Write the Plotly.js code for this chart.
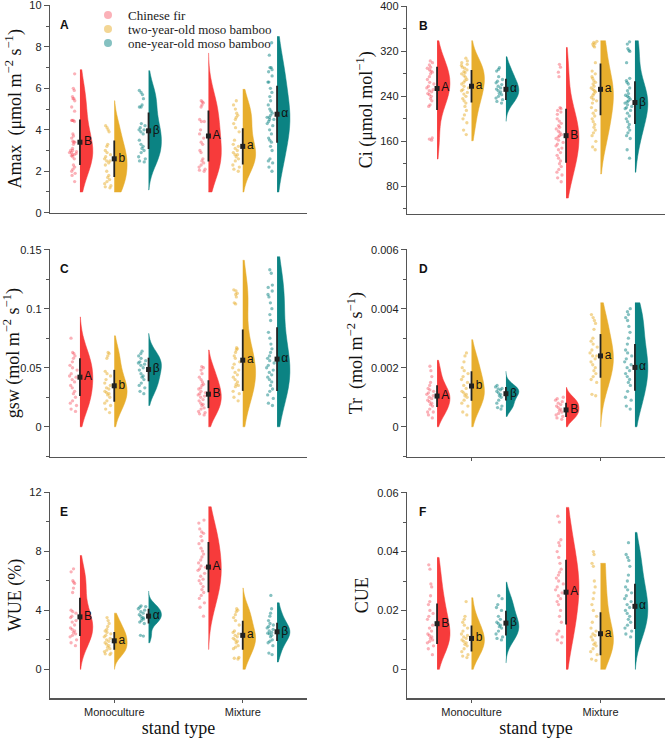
<!DOCTYPE html>
<html><head><meta charset="utf-8">
<script src="https://cdn.plot.ly/plotly-3.0.1.min.js"></script>
<style>html,body{margin:0;padding:0;background:#fff}#chart{width:666px;height:741px}</style>
</head><body><div id="chart"></div>
<script>
// ---------- categories ----------
const standTypes = ['Monoculture', 'Mixture'];
const speciesNames = ['Chinese fir', 'two-year-old moso bamboo', 'one-year-old moso bamboo'];

// ---------- Amax ----------
const amaxMonoFir = [6.7,6.0,5.9,5.6,5.5,5.5,5.4,5.1,4.9,4.45,4.45,4.45,4.4,3.8,3.7,3.6,3.45,3.4,3.4,3.3,3.1,3.0,3.0,2.95,2.9,2.9,2.85,2.8,2.8,2.75,2.7,2.6,2.3,2.2,2.1,2.0,1.9,1.8,1.5];
const amaxMonoTwo = [4.2,4.1,4.0,3.9,3.3,3.2,3.0,2.9,2.8,2.7,2.6,2.5,2.5,2.4,2.3,2.0,1.8,1.7,1.6,1.5,1.4,1.3,1.25,1.2];
const amaxMonoOne = [5.9,5.8,5.7,5.5,5.2,5.1,5.1,4.3,4.2,4.1,4.0,4.0,3.9,3.8,3.5,3.3,3.2,3.1,3.0,2.9,2.7,2.6,2.5,2.45];
const amaxMixFir = [5.4,5.35,5.3,5.2,5.1,4.5,4.4,4.4,4.0,3.8,3.6,3.4,3.3,3.0,2.9,2.6,2.5,2.4,2.3,2.2,2.1,2.05,2.0];
const amaxMixTwo = [5.4,5.2,5.0,4.8,4.7,4.6,4.5,4.3,4.1,3.9,3.5,3.3,3.2,3.1,3.0,2.9,2.8,2.8,2.7,2.6,2.5,2.3,2.2,2.1,2.0];
const amaxMixOne = [8.2,7.6,7.0,7.0,6.9,6.8,6.6,6.3,6.3,6.0,5.8,5.6,5.4,5.2,5.0,4.9,4.8,4.7,4.6,4.6,4.5,4.5,4.4,4.3,4.2,4.0,3.8,3.6,3.5,3.4,3.2,3.0,2.6,2.5,2.4,2.2,2.0];
const amaxMeans = [3.4,2.6,3.95,3.7,3.2,4.75];
const amaxSD = [1.1,0.88,0.88,1.23,0.87,1.38];
const amaxLetters = ['B','b','β','A','a','α'];
const amaxSpan = [[1.0,6.9],[1.0,5.4],[1.1,6.85],[1.0,7.7],[1.0,5.95],[1.0,8.5]];

// ---------- Ci ----------
const ciMonoFir = [303,300,296,292,290,287,285,283,280,275,270,265,262,258,255,252,250,248,245,243,240,236,232,225,222,166,164,162];
const ciMonoTwo = [308,303,300,297,295,292,290,287,284,282,280,277,274,270,268,265,262,258,255,252,250,247,244,240,236,232,228,222,215,207,200,193,180,172];
const ciMonoOne = [291,288,285,275,270,267,264,261,258,255,253,250,248,245,243,240,237,234,231,228];
const ciMixFir = [297,292,283,275,220,218,215,212,208,200,196,192,188,185,182,178,175,172,170,168,165,162,158,155,152,148,145,140,135,130,125,120,115,110,105,100,95,88];
const ciMixTwo = [338,336,334,333,330,328,300,285,280,275,272,268,265,262,258,255,252,250,248,245,242,238,235,232,228,220,215,210,205,200,195,190,185,180,175,170,160,150,145];
const ciMixOne = [337,333,325,322,320,300,272,268,265,262,255,250,245,242,240,238,235,232,230,228,225,222,220,218,215,210,205,200,195,190,185,180,175,170,165,145,130];
const ciMeans = [254,258,252.5,170,252.5,229];
const ciSD = [38.5,29,18.8,48,46,38];
const ciLetters = ['A','a','α','B','a','β'];
const ciSpan = [[128.6,339],[161,339],[195.6,310.5],[59,327],[102,339],[105,339]];

// ---------- gsw ----------
const gswMonoFir = [0.075,0.063,0.062,0.06,0.058,0.055,0.052,0.05,0.048,0.045,0.043,0.042,0.04,0.038,0.035,0.033,0.03,0.028,0.025,0.022,0.02,0.018,0.015,0.013];
const gswMonoTwo = [0.063,0.062,0.06,0.058,0.047,0.045,0.043,0.04,0.037,0.035,0.033,0.032,0.03,0.029,0.028,0.027,0.025,0.022,0.02,0.018,0.015,0.012];
const gswMonoOne = [0.064,0.062,0.06,0.058,0.056,0.055,0.054,0.053,0.052,0.05,0.048,0.045,0.043,0.042,0.04,0.037,0.035,0.033,0.03,0.028];
const gswMixFir = [0.051,0.05,0.048,0.045,0.042,0.04,0.038,0.036,0.035,0.033,0.032,0.03,0.029,0.028,0.027,0.026,0.025,0.023,0.022,0.02,0.019,0.018,0.016,0.015,0.013,0.012,0.011,0.01];
const gswMixTwo = [0.116,0.115,0.113,0.112,0.11,0.105,0.104,0.067,0.066,0.065,0.063,0.06,0.058,0.055,0.053,0.05,0.048,0.046,0.044,0.042,0.04,0.038,0.036,0.035,0.034,0.03,0.028,0.025,0.022];
const gswMixOne = [0.133,0.13,0.12,0.118,0.115,0.112,0.11,0.105,0.1,0.095,0.09,0.08,0.075,0.07,0.066,0.063,0.06,0.058,0.056,0.054,0.052,0.05,0.048,0.046,0.044,0.042,0.04,0.038,0.035,0.032,0.03,0.027,0.024,0.02,0.018];
const gswMeans = [0.042,0.0347,0.0485,0.0276,0.0564,0.0573];
const gswSD = [0.016,0.0135,0.01,0.0118,0.026,0.027];
const gswLetters = ['A','b','β','B','a','α'];
const gswSpan = [[0,0.093],[0,0.077],[0.018,0.079],[0,0.065],[0,0.141],[0,0.144]];

// ---------- Tr ----------
const trMonoFir = [0.00205,0.0019,0.0017,0.0015,0.0014,0.0013,0.00125,0.0012,0.00115,0.0011,0.00105,0.001,0.00095,0.0009,0.00085,0.0008,0.00075,0.0007,0.0006,0.0005,0.0005,0.0004,0.0003];
const trMonoTwo = [0.0025,0.0024,0.0022,0.002,0.0019,0.0018,0.0017,0.0016,0.0015,0.0014,0.0013,0.0012,0.00115,0.0011,0.00105,0.001,0.0009,0.0008,0.0007,0.0005,0.0004];
const trMonoOne = [0.0014,0.00135,0.0013,0.00128,0.00125,0.0012,0.00115,0.0011,0.00105,0.001,0.0009,0.0008,0.0007,0.00065,0.0006];
const trMixFir = [0.001,0.00095,0.0009,0.00085,0.0008,0.00075,0.0007,0.00065,0.0006,0.00055,0.0005,0.00045,0.0004,0.00035,0.0003,0.00025];
const trMixTwo = [0.0038,0.0037,0.0036,0.0035,0.0033,0.003,0.0029,0.0028,0.0027,0.0026,0.0025,0.0024,0.0024,0.0023,0.0022,0.0021,0.002,0.0019,0.0018,0.0017,0.0016,0.0015,0.0011,0.00105];
const trMixOne = [0.004,0.0039,0.0038,0.0037,0.0036,0.0034,0.0032,0.003,0.0028,0.0026,0.0025,0.0024,0.0023,0.0022,0.0021,0.002,0.0019,0.0018,0.0017,0.0016,0.0015,0.0014,0.0012,0.001,0.0009,0.0007,0.0006];
const trMeans = [0.00104,0.00138,0.00112,0.00057,0.0024,0.00201];
const trSD = [0.00037,0.0005,0.00023,0.00024,0.00074,0.00079];
const trLetters = ['A','b','β','B','a','α'];
const trSpan = [[0,0.00225],[0,0.00295],[0.00035,0.00188],[0,0.00133],[0,0.0042],[0,0.0042]];

// ---------- WUE ----------
const wueMonoFir = [6.8,6.6,6.0,5.9,5.8,5.5,5.2,4.0,3.9,3.8,3.6,3.5,3.3,3.2,3.0,2.8,2.7,2.6,2.5,2.4,2.3,2.2,2.0,1.8,1.6];
const wueMonoTwo = [3.5,3.3,3.1,2.9,2.7,2.6,2.5,2.4,2.3,2.2,2.1,2.0,1.9,1.8,1.7,1.6,1.5,1.4,1.3,1.2,1.1,1.05,1.0];
const wueMonoOne = [4.3,4.25,4.2,4.1,4.0,3.9,3.8,3.7,3.6,3.5,3.45,3.4,3.3,3.2,3.1,2.3,2.25];
const wueMixFir = [10.1,9.9,9.5,9.3,9.2,9.0,8.7,8.5,8.2,8.0,7.8,7.6,7.4,7.2,7.0,6.9,6.8,6.7,6.5,6.3,6.1,6.0,5.8,5.6,5.4,5.2,5.0,4.8,4.5,4.2,3.6];
const wueMixTwo = [4.1,4.0,3.9,3.7,3.5,3.3,3.0,2.6,2.5,2.4,2.3,2.2,2.1,2.0,1.9,1.8,1.6,1.5,1.4,0.8,0.75,0.7];
const wueMixOne = [5.0,4.1,3.8,3.6,3.3,3.1,3.0,2.9,2.8,2.7,2.6,2.5,2.45,2.4,2.3,2.2,2.0,1.9,1.8,1.6,1.1,1.0];
const wueMeans = [3.55,1.93,3.6,6.92,2.3,2.54];
const wueSD = [1.3,0.6,0.5,1.7,0.98,0.62];
const wueLetters = ['B','a','α','A','a','β'];
const wueSpan = [[0,7.7],[0,3.8],[1.8,5.3],[1.35,11.0],[0,5.5],[0.5,4.5]];

// ---------- CUE ----------
const cueMonoFir = [0.0355,0.034,0.029,0.028,0.025,0.023,0.022,0.02,0.019,0.018,0.017,0.015,0.014,0.013,0.012,0.0115,0.011,0.0105,0.01,0.0095,0.009,0.008,0.007,0.005];
const cueMonoTwo = [0.023,0.018,0.017,0.016,0.015,0.014,0.013,0.012,0.0115,0.011,0.0105,0.01,0.0095,0.009,0.0085,0.008,0.007,0.006,0.005,0.0045,0.004];
const cueMonoOne = [0.025,0.024,0.022,0.021,0.02,0.018,0.017,0.016,0.0155,0.015,0.0145,0.014,0.013,0.012,0.011,0.0105,0.01];
const cueMixFir = [0.052,0.05,0.044,0.043,0.042,0.04,0.038,0.036,0.034,0.033,0.032,0.031,0.03,0.029,0.028,0.027,0.026,0.025,0.024,0.023,0.022,0.02,0.018,0.016,0.013,0.012,0.011,0.01,0.009];
const cueMixTwo = [0.04,0.039,0.036,0.035,0.03,0.028,0.026,0.024,0.022,0.02,0.018,0.016,0.014,0.013,0.012,0.0115,0.011,0.01,0.009,0.0085,0.008,0.007,0.006,0.005,0.0035,0.003];
const cueMixOne = [0.043,0.039,0.038,0.037,0.035,0.032,0.03,0.028,0.027,0.026,0.025,0.024,0.023,0.022,0.021,0.02,0.019,0.018,0.017,0.016,0.015,0.014,0.013,0.012,0.011];
const cueMeans = [0.0155,0.0105,0.0157,0.0262,0.0121,0.0214];
const cueSD = [0.0069,0.0044,0.0042,0.011,0.0073,0.0077];
const cueLetters = ['B','b','β','A','a','α'];
const cueSpan = [[0,0.038],[0,0.0243],[0.0022,0.0296],[0,0.055],[0,0.036],[0,0.0465]];

// ---------- styling / layout ----------
const fillColors = ['#F73B3B', '#E7AD2C', '#0B8383'];
const pointColors = ['rgba(245,70,85,0.42)', 'rgba(231,173,44,0.5)', 'rgba(11,131,131,0.5)'];
const W = 666, H = 741;
const px = v => v / W, py = v => 1 - v / H;

const panels = [
  {id:'', groups:[amaxMonoFir,amaxMonoTwo,amaxMonoOne,amaxMixFir,amaxMixTwo,amaxMixOne], means:amaxMeans, sd:amaxSD, letters:amaxLetters, span:amaxSpan,
   title:'Amax  (μmol m<sup>−2</sup> s<sup>−1</sup>)', label:'A', col:0, yr:[5,212.7], range:[0,10.02], dtick:2, minor:1, xticks:false},
  {id:'2', groups:[ciMonoFir,ciMonoTwo,ciMonoOne,ciMixFir,ciMixTwo,ciMixOne], means:ciMeans, sd:ciSD, letters:ciLetters, span:ciSpan,
   title:'Ci (μmol mol<sup>−1</sup>)', label:'B', col:1, yr:[6,213.5], range:[31.5,400.8], dtick:80, minor:40, xticks:false},
  {id:'3', groups:[gswMonoFir,gswMonoTwo,gswMonoOne,gswMixFir,gswMixTwo,gswMixOne], means:gswMeans, sd:gswSD, letters:gswLetters, span:gswSpan,
   title:'gsw (mol m<sup>−2</sup> s<sup>−1</sup>)', label:'C', col:0, yr:[249.3,457], range:[-0.0256,0.1503], dtick:0.05, minor:0.025, xticks:false},
  {id:'4', groups:[trMonoFir,trMonoTwo,trMonoOne,trMixFir,trMixTwo,trMixOne], means:trMeans, sd:trSD, letters:trLetters, span:trSpan,
   title:'Tr  (mol m<sup>−2</sup> s<sup>−1</sup>)', label:'D', col:1, yr:[249.3,457], range:[-0.001025,0.006012], dtick:0.002, minor:0.001, xticks:true},
  {id:'5', groups:[wueMonoFir,wueMonoTwo,wueMonoOne,wueMixFir,wueMixTwo,wueMixOne], means:wueMeans, sd:wueSD, letters:wueLetters, span:wueSpan,
   title:'WUE (%)', label:'E', col:0, yr:[491.7,698.3], range:[-1.96,12.02], dtick:4, minor:2, xticks:true, bottom:true},
  {id:'6', groups:[cueMonoFir,cueMonoTwo,cueMonoOne,cueMixFir,cueMixTwo,cueMixOne], means:cueMeans, sd:cueSD, letters:cueLetters, span:cueSpan,
   title:'CUE', label:'F', col:1, yr:[492.3,698.3], range:[-0.00983,0.06012], dtick:0.02, minor:0.01, xticks:true, bottom:true}
];

const colDomains = [[px(50), px(307)], [px(407), px(665)]];
const groupOffset = 0.267;
const traces = [];
const layout = {
  width: W, height: H, margin: {l:0, r:0, t:0, b:0},
  paper_bgcolor: '#fff', plot_bgcolor: 'rgba(0,0,0,0)',
  showlegend: true, hovermode: false, annotations: [],
  font: {family: 'Liberation Sans, Arial, sans-serif', color: '#222'}
};

panels.forEach((p, pi) => {
  const xa = 'x' + p.id, ya = 'y' + p.id;
  const positions = [];
  p.groups.forEach((vals, gi) => {
    const stand = Math.floor(gi / 3), sp = gi % 3;
    const pos = stand + 1 + (sp - 1) * groupOffset;
    positions.push(pos);
    traces.push({
      type: 'violin', x0: pos, y: vals, xaxis: xa, yaxis: ya,
      side: 'positive', width: 0.2, scalemode: 'width',
      spanmode: 'manual', span: p.span[gi], bandwidth: p.sd[gi] * 0.75,
      fillcolor: fillColors[sp], line: {color: fillColors[sp], width: 0.5},
      points: 'all', pointpos: -0.5, jitter: 0.32,
      marker: {size: 3.3, color: pointColors[sp], line: {width: 0}},
      box: {visible: false}, meanline: {visible: false},
      showlegend: false, name: speciesNames[sp] + ' ' + standTypes[stand]
    });
  });
  traces.push({
    type: 'scatter', mode: 'markers+text', x: positions, y: p.means, xaxis: xa, yaxis: ya,
    marker: {symbol: 'square', size: 5, color: '#222'},
    error_y: {type: 'data', array: p.sd, visible: true, width: 0, thickness: 1.8, color: '#222'},
    text: p.letters, textposition: 'middle right',
    textfont: {family: 'Liberation Sans, Arial, sans-serif', size: 12, color: '#111'},
    cliponaxis: false, showlegend: false
  });

  const xAxis = {
    domain: colDomains[p.col], range: [0.5, 2.5], type: 'linear', anchor: ya,
    showline: true, linecolor: '#555', linewidth: 1.2, zeroline: false, showgrid: false,
    tickvals: [1, 2], ticktext: standTypes, showticklabels: !!p.bottom,
    ticks: p.xticks ? 'outside' : '', ticklen: 3, tickcolor: '#555',
    tickfont: {size: 11, color: '#222'}
  };
  if (p.bottom) {
    xAxis.title = {text: 'stand type', font: {family: 'Liberation Serif, Times New Roman, serif', size: 18, color: '#111'}, standoff: 2};
  }
  layout['xaxis' + p.id] = xAxis;
  layout['yaxis' + p.id] = {
    domain: [py(p.yr[1]), py(p.yr[0])], range: p.range, anchor: xa,
    showline: true, linecolor: '#555', linewidth: 1.2, zeroline: false, showgrid: false,
    dtick: p.dtick, tick0: 0, ticks: 'outside', ticklen: 5, tickcolor: '#555',
    ticklabeloverflow: 'allow',
    minor: {dtick: p.minor, tick0: 0, ticks: 'outside', ticklen: 3, tickcolor: '#555'},
    tickfont: {size: 11, color: '#222'},
    title: {text: p.title, font: {family: 'Liberation Serif, Times New Roman, serif', size: 18, color: '#111'}, standoff: 3}
  };
  layout.annotations.push({
    text: '<b>' + p.label + '</b>', showarrow: false,
    xref: 'paper', yref: 'paper', x: px(p.col === 0 ? 58 : 417), y: py(p.yr[0] + 20),
    xanchor: 'left', yanchor: 'middle', font: {size: 12, color: '#111'}
  });
});

// legend entries (one legend per row)
const legendKeys = ['legend', 'legend2', 'legend3'];
speciesNames.forEach((nm, i) => {
  traces.push({
    type: 'scatter', mode: 'markers', x: [null], y: [null], xaxis: 'x', yaxis: 'y',
    name: nm, legend: legendKeys[i], showlegend: true,
    marker: {size: 8, color: pointColors[i]}
  });
  layout[legendKeys[i]] = {
    x: px(88), y: py(15 + 14 * i), xanchor: 'left', yanchor: 'middle',
    bgcolor: 'rgba(0,0,0,0)', borderwidth: 0,
    font: {family: 'Liberation Serif, Times New Roman, serif', size: 13, color: '#222'}
  };
});

Plotly.newPlot('chart', traces, layout, {staticPlot: true});
</script>
</body></html>
